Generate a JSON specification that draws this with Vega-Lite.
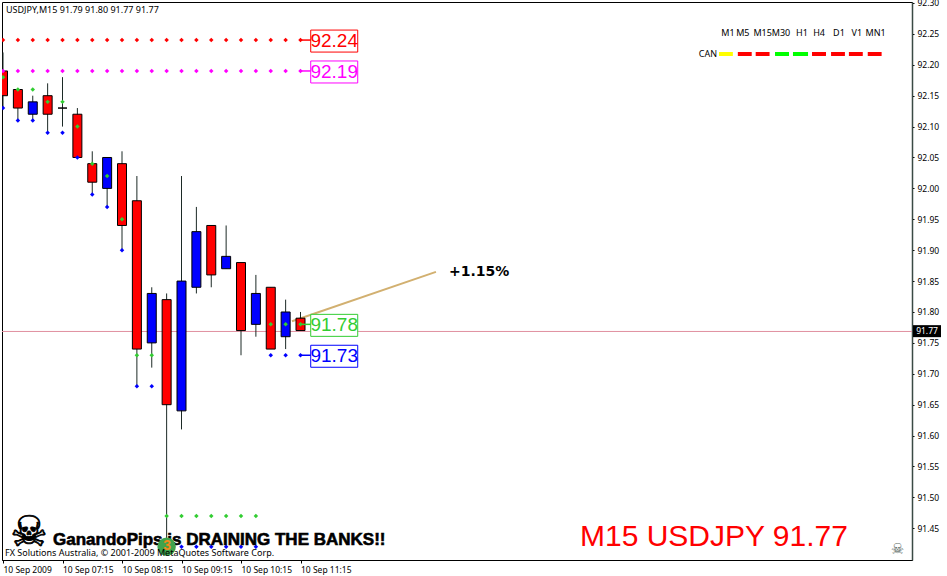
{"$schema":"https://vega.github.io/schema/vega-lite/v6.json","width":910,"height":558,"autosize":{"type":"none"},"padding":{"left":2,"top":2,"right":35,"bottom":16},"background":"white","config":{"view":{"stroke":"black","strokeWidth":1},"font":"Liberation Sans"},
"datasets":{"candles":[
{"t":"2009-09-10T06:15:00Z","o":92.19,"h":92.22,"l":92.13,"c":92.15,"g":92.18,"b":92.13,"r1":92.24,"r2":92.19,"dir":"down"},
{"t":"2009-09-10T06:30:00Z","o":92.16,"h":92.16,"l":92.11,"c":92.13,"g":92.16,"b":92.11,"r1":92.24,"r2":92.19,"dir":"down"},
{"t":"2009-09-10T06:45:00Z","o":92.12,"h":92.15,"l":92.11,"c":92.14,"g":92.16,"b":92.11,"r1":92.24,"r2":92.19,"dir":"up"},
{"t":"2009-09-10T07:00:00Z","o":92.15,"h":92.17,"l":92.09,"c":92.12,"g":92.14,"b":92.09,"r1":92.24,"r2":92.19,"dir":"down"},
{"t":"2009-09-10T07:15:00Z","o":92.13,"h":92.18,"l":92.10,"c":92.13,"g":92.14,"b":92.09,"r1":92.24,"r2":92.19,"dir":"up"},
{"t":"2009-09-10T07:30:00Z","o":92.12,"h":92.13,"l":92.05,"c":92.05,"g":92.10,"b":92.05,"r1":92.24,"r2":92.19,"dir":"down"},
{"t":"2009-09-10T07:45:00Z","o":92.04,"h":92.06,"l":91.99,"c":92.01,"g":92.04,"b":91.99,"r1":92.24,"r2":92.19,"dir":"down"},
{"t":"2009-09-10T08:00:00Z","o":92.00,"h":92.05,"l":91.97,"c":92.05,"g":92.02,"b":91.97,"r1":92.24,"r2":92.19,"dir":"up"},
{"t":"2009-09-10T08:15:00Z","o":92.04,"h":92.06,"l":91.90,"c":91.94,"g":91.95,"b":91.90,"r1":92.24,"r2":92.19,"dir":"down"},
{"t":"2009-09-10T08:30:00Z","o":91.98,"h":92.02,"l":91.68,"c":91.74,"g":91.73,"b":91.68,"r1":92.24,"r2":92.19,"dir":"down"},
{"t":"2009-09-10T08:45:00Z","o":91.75,"h":91.84,"l":91.71,"c":91.83,"g":91.73,"b":91.68,"r1":92.24,"r2":92.19,"dir":"up"},
{"t":"2009-09-10T09:00:00Z","o":91.82,"h":91.83,"l":91.42,"c":91.65,"g":91.47,"b":91.42,"r1":92.24,"r2":92.19,"dir":"down"},
{"t":"2009-09-10T09:15:00Z","o":91.64,"h":92.02,"l":91.61,"c":91.85,"g":91.47,"b":91.42,"r1":92.24,"r2":92.19,"dir":"up"},
{"t":"2009-09-10T09:30:00Z","o":91.84,"h":91.97,"l":91.83,"c":91.93,"g":91.47,"b":91.42,"r1":92.24,"r2":92.19,"dir":"up"},
{"t":"2009-09-10T09:45:00Z","o":91.94,"h":91.94,"l":91.84,"c":91.86,"g":91.47,"b":91.42,"r1":92.24,"r2":92.19,"dir":"down"},
{"t":"2009-09-10T10:00:00Z","o":91.87,"h":91.94,"l":91.87,"c":91.89,"g":91.47,"b":91.42,"r1":92.24,"r2":92.19,"dir":"up"},
{"t":"2009-09-10T10:15:00Z","o":91.88,"h":91.88,"l":91.73,"c":91.77,"g":91.47,"b":91.42,"r1":92.24,"r2":92.19,"dir":"down"},
{"t":"2009-09-10T10:30:00Z","o":91.78,"h":91.86,"l":91.76,"c":91.83,"g":91.47,"b":91.42,"r1":92.24,"r2":92.19,"dir":"up"},
{"t":"2009-09-10T10:45:00Z","o":91.84,"h":91.84,"l":91.74,"c":91.74,"g":91.78,"b":91.73,"r1":92.24,"r2":92.19,"dir":"down"},
{"t":"2009-09-10T11:00:00Z","o":91.76,"h":91.82,"l":91.74,"c":91.80,"g":91.78,"b":91.73,"r1":92.24,"r2":92.19,"dir":"up"},
{"t":"2009-09-10T11:15:00Z","o":91.79,"h":91.80,"l":91.77,"c":91.77,"g":91.78,"b":91.73,"r1":92.24,"r2":92.19,"dir":"down"}
],
"levels":[
{"k":"r1","p":92.24,"label":"92.24","t0":"2009-09-10T11:15:00Z","t1":"2009-09-10T11:26:00Z","tc":"2009-09-10T11:49:00Z"},
{"k":"r2","p":92.19,"label":"92.19","t0":"2009-09-10T11:15:00Z","t1":"2009-09-10T11:26:00Z","tc":"2009-09-10T11:49:00Z"},
{"k":"s1","p":91.78,"label":"91.78","t0":"2009-09-10T11:15:00Z","t1":"2009-09-10T11:26:00Z","tc":"2009-09-10T11:49:00Z"},
{"k":"s2","p":91.73,"label":"91.73","t0":"2009-09-10T11:15:00Z","t1":"2009-09-10T11:26:00Z","tc":"2009-09-10T11:49:00Z"}
],
"tf":[
{"tf":"M1","tc":"2009-09-10T18:26:00Z","t0":"2009-09-10T18:17:00Z","t1":"2009-09-10T18:31:00Z","k":"flat"},
{"tf":"M5","tc":"2009-09-10T18:41:00Z","t0":"2009-09-10T18:36:00Z","t1":"2009-09-10T18:50:00Z","k":"bear"},
{"tf":"M15","tc":"2009-09-10T19:01:00Z","t0":"2009-09-10T18:54:00Z","t1":"2009-09-10T19:08:00Z","k":"bear"},
{"tf":"M30","tc":"2009-09-10T19:19:30Z","t0":"2009-09-10T19:13:30Z","t1":"2009-09-10T19:27:36Z","k":"bull"},
{"tf":"H1","tc":"2009-09-10T19:40:42Z","t0":"2009-09-10T19:31:36Z","t1":"2009-09-10T19:46:48Z","k":"bull"},
{"tf":"H4","tc":"2009-09-10T19:57:54Z","t0":"2009-09-10T19:50:48Z","t1":"2009-09-10T20:04:54Z","k":"bear"},
{"tf":"D1","tc":"2009-09-10T20:18:00Z","t0":"2009-09-10T20:10:00Z","t1":"2009-09-10T20:24:00Z","k":"bear"},
{"tf":"V1","tc":"2009-09-10T20:36:00Z","t0":"2009-09-10T20:28:00Z","t1":"2009-09-10T20:42:00Z","k":"bear"},
{"tf":"MN1","tc":"2009-09-10T20:55:00Z","t0":"2009-09-10T20:47:00Z","t1":"2009-09-10T21:01:00Z","k":"bear"}
]},
"encoding":{
"x":{"field":"t","type":"temporal","title":null,"scale":{"type":"utc","padding":0,"domain":[{"year":2009,"month":9,"date":10,"hours":6,"minutes":13,"seconds":59,"utc":true},{"year":2009,"month":9,"date":10,"hours":21,"minutes":31,"seconds":38,"utc":true}]},
"axis":{"values":[{"year":2009,"month":9,"date":10,"hours":6,"minutes":15,"utc":true},{"year":2009,"month":9,"date":10,"hours":7,"minutes":15,"utc":true},{"year":2009,"month":9,"date":10,"hours":8,"minutes":15,"utc":true},{"year":2009,"month":9,"date":10,"hours":9,"minutes":15,"utc":true},{"year":2009,"month":9,"date":10,"hours":10,"minutes":15,"utc":true},{"year":2009,"month":9,"date":10,"hours":11,"minutes":15,"utc":true}],"labelExpr":"datum.index==0?'10 Sep 2009':utcFormat(datum.value,'%d %b %H:%M')","grid":false,"domainColor":"black","tickColor":"black","tickSize":3,"labelAlign":"left","labelBaseline":"top","labelPadding":2,"labelFont":"Noto Sans","labelFontSize":8.5,"labelColor":"black","labelFlush":false,"labelOverlap":false}},
"y":{"type":"quantitative","title":null,"scale":{"domain":[91.3987,92.3016],"nice":false,"zero":false},
"axis":{"orient":"right","values":[92.30,92.25,92.20,92.15,92.10,92.05,92.00,91.95,91.90,91.85,91.80,91.75,91.70,91.65,91.60,91.55,91.50,91.45],"format":".2f","grid":false,"domainColor":"#3a4a44","domainWidth":1.5,"tickColor":"black","tickSize":2,"labelPadding":3,"labelFont":"Noto Sans","labelFontSize":8.5,"labelColor":"black","labelOverlap":false}}
},
"layer":[
{"data":{"values":[{"p":91.7685}]},"mark":{"type":"rule","color":"#e0909f","strokeWidth":1},"encoding":{"x":{"value":0},"x2":{"value":910},"y":{"field":"p"}}},
{"data":{"values":[{"t":"2009-09-10T11:06:24Z","p":91.785},{"t":"2009-09-10T13:31:36Z","p":91.865}]},"mark":{"type":"line","color":"#d2b070","strokeWidth":2},"encoding":{"y":{"field":"p"}}},
{"data":{"name":"candles"},"mark":{"type":"rule","color":"#1c2a26","strokeWidth":1,"clip":true},"encoding":{"y":{"field":"l"},"y2":{"field":"h"}}},
{"data":{"name":"candles"},"mark":{"type":"bar","stroke":"black","strokeWidth":1,"size":9,"clip":true},"encoding":{"y":{"field":"o"},"y2":{"field":"c"},"color":{"field":"dir","type":"nominal","legend":null,"scale":{"domain":["up","down","bull","bear","flat","r1","r2","s1","s2"],"range":["#0000ff","#ff0000","#00ff00","#ff0000","#ffff00","#ff0000","#ff00ff","#32cd32","#0000ff"]}}}},
{"data":{"name":"candles"},"mark":{"type":"point","filled":true,"shape":"diamond","color":"#ff0000","size":20,"opacity":1,"clip":true},"encoding":{"y":{"field":"r1"}}},
{"data":{"name":"candles"},"mark":{"type":"point","filled":true,"shape":"diamond","color":"#ff00ff","size":20,"opacity":1,"clip":true},"encoding":{"y":{"field":"r2"}}},
{"data":{"name":"candles"},"mark":{"type":"point","filled":true,"shape":"diamond","color":"#0000ff","size":20,"opacity":1,"clip":true},"encoding":{"y":{"field":"b"}}},
{"data":{"values":[{"t":"2009-09-10T06:41:00Z","p":91.4426,"text":"☠"}]},"mark":{"type":"text","font":"DejaVu Sans","fontSize":42,"color":"black","stroke":"black","strokeWidth":0.8,"align":"center","baseline":"middle"},"encoding":{"y":{"field":"p"},"text":{"field":"text"}}},
{"data":{"values":[{"t":"2009-09-10T07:05:25Z","p":91.431,"text":"GanandoPips is DRAINING THE BANKS!!"}]},"mark":{"type":"text","font":"Liberation Sans","fontWeight":"bold","fontSize":17,"color":"black","stroke":"black","strokeWidth":0.6,"align":"left","baseline":"middle"},"encoding":{"y":{"field":"p"},"text":{"field":"text"}}},
{"data":{"values":[{"t":"2009-09-10T09:00:00Z","p":91.42}]},"mark":{"type":"point","filled":true,"shape":"circle","color":"#3fa34d","size":340,"opacity":1},"encoding":{"y":{"field":"p"}}},
{"data":{"values":[{"t":"2009-09-10T09:00:30Z","p":91.421,"text":"3"}]},"mark":{"type":"text","fontWeight":"bold","fontSize":14,"color":"#f08a1c","align":"center","baseline":"middle"},"encoding":{"y":{"field":"p"},"text":{"field":"text"}}},
{"data":{"name":"candles"},"mark":{"type":"point","filled":true,"shape":"diamond","color":"#32cd32","size":20,"opacity":1,"clip":true},"encoding":{"y":{"field":"g"}}},
{"data":{"name":"levels"},"mark":{"type":"rule","strokeWidth":1.5},"encoding":{"x":{"field":"t0","type":"temporal"},"x2":{"field":"t1"},"y":{"field":"p"},"color":{"field":"k","type":"nominal","legend":null}}},
{"data":{"name":"levels"},"mark":{"type":"rect","width":47,"height":22,"fill":"white","strokeWidth":1,"yOffset":1},"encoding":{"x":{"field":"tc","type":"temporal"},"y":{"field":"p"},"stroke":{"field":"k","type":"nominal","legend":null,"scale":{"domain":["up","down","bull","bear","flat","r1","r2","s1","s2"],"range":["#0000ff","#ff0000","#00ff00","#ff0000","#ffff00","#ff0000","#ff00ff","#32cd32","#0000ff"]}}}},
{"data":{"name":"levels"},"mark":{"type":"text","fontSize":19,"align":"center","baseline":"middle","font":"Liberation Sans","yOffset":1},"encoding":{"x":{"field":"tc","type":"temporal"},"y":{"field":"p"},"text":{"field":"label"},"color":{"field":"k","type":"nominal","legend":null}}},
{"data":{"values":[{"t":"2009-09-10T13:44:45Z","p":91.865,"text":"+1.15%"}]},"mark":{"type":"text","font":"DejaVu Sans","fontWeight":"bold","fontSize":14,"color":"black","align":"left","baseline":"middle"},"encoding":{"y":{"field":"p"},"text":{"field":"text"}}},
{"data":{"name":"tf"},"mark":{"type":"text","fontSize":9,"font":"Noto Sans","color":"black","align":"center","baseline":"middle"},"encoding":{"x":{"field":"tc","type":"temporal"},"y":{"datum":92.2514},"text":{"field":"tf"}}},
{"data":{"name":"tf"},"mark":{"type":"rule","strokeWidth":4},"encoding":{"x":{"field":"t0","type":"temporal"},"x2":{"field":"t1"},"y":{"datum":92.2175},"color":{"field":"k","type":"nominal","legend":null}}},
{"data":{"values":[{"t":"2009-09-10T18:15:00Z","p":92.2175,"text":"CAN"}]},"mark":{"type":"text","fontSize":9,"font":"Noto Sans","color":"black","align":"right","baseline":"middle"},"encoding":{"y":{"field":"p"},"text":{"field":"text"}}},
{"data":{"values":[{"t":"2009-09-10T06:18:00Z","p":92.2887,"text":"USDJPY,M15  91.79 91.80 91.77 91.77"}]},"mark":{"type":"text","fontSize":9,"font":"Noto Sans","color":"black","align":"left","baseline":"middle"},"encoding":{"y":{"field":"p"},"text":{"field":"text"}}},
{"data":{"values":[{"t":"2009-09-10T06:17:00Z","p":91.4107,"text":"FX Solutions Australia, © 2001-2009 MetaQuotes Software Corp."}]},"mark":{"type":"text","fontSize":9,"font":"Noto Sans","color":"black","align":"left","baseline":"middle"},"encoding":{"y":{"field":"p"},"text":{"field":"text"}}},
{"data":{"values":[{"t":"2009-09-10T15:56:50Z","p":91.436,"text":"M15 USDJPY 91.77"}]},"mark":{"type":"text","fontSize":30,"font":"Liberation Sans","color":"#ff0000","align":"left","baseline":"middle"},"encoding":{"y":{"field":"p"},"text":{"field":"text"}}},
{"data":{"values":[{"t":"2009-09-10T21:17:00Z","p":91.416,"text":"☠"}]},"mark":{"type":"text","font":"DejaVu Sans","fontSize":15,"color":"#5a6a64","align":"center","baseline":"middle"},"encoding":{"y":{"field":"p"},"text":{"field":"text"}}},
{"data":{"values":[{"t":"2009-09-10T21:46:46Z","p":91.769}]},"mark":{"type":"rect","width":28,"height":12,"fill":"black"},"encoding":{"y":{"field":"p"}}},
{"data":{"values":[{"t":"2009-09-10T21:46:46Z","p":91.769,"text":"91.77"}]},"mark":{"type":"text","fontSize":8.5,"font":"Noto Sans","color":"white","align":"center","baseline":"middle"},"encoding":{"y":{"field":"p"},"text":{"field":"text"}}}
]}
